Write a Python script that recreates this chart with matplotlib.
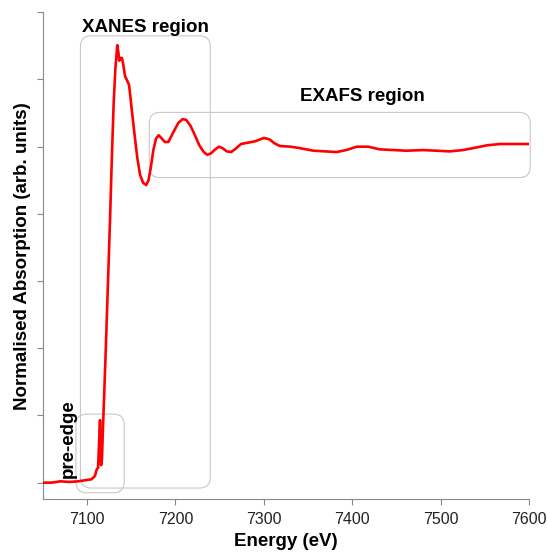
import matplotlib
matplotlib.use("Agg")
import matplotlib.pyplot as plt
from matplotlib.patches import FancyBboxPatch

plt.rcParams['font.family'] = ['Liberation Sans', 'DejaVu Sans']

# XAS spectrum
energy = [7050, 7060, 7070, 7080, 7090, 7100, 7105, 7109, 7111, 7112.5,
          7113.5, 7114.7, 7115.3, 7115.9, 7116.9, 7118, 7119.2, 7121, 7123,
          7126, 7128, 7130, 7132, 7134.2, 7135.5, 7136.5, 7138, 7139.5, 7141,
          7143, 7145.5, 7147.5, 7149, 7151, 7154, 7157, 7160, 7163.5, 7167,
          7169.5, 7172, 7175, 7178, 7181, 7184, 7188, 7192, 7197, 7203, 7208,
          7212, 7217, 7222, 7227, 7232, 7236, 7240, 7245, 7249, 7253, 7258,
          7263, 7268, 7274, 7282, 7290, 7300, 7306, 7312, 7318, 7330, 7340,
          7356, 7370, 7382, 7393, 7405, 7418, 7431, 7447, 7461, 7480, 7495,
          7510, 7525, 7537, 7552, 7567, 7585, 7600]
absorption = [0.00, 0.00, 0.02, 0.01, 0.02, 0.04, 0.05, 0.10, 0.20, 0.22,
              0.55, 0.93, 0.55, 0.26, 0.35, 0.80, 1.23, 1.90, 2.70,
              3.90, 4.80, 5.60, 6.15, 6.51, 6.40, 6.28, 6.32, 6.32, 6.22,
              6.05, 5.98, 5.92, 5.75, 5.50, 5.15, 4.82, 4.58, 4.46, 4.43,
              4.50, 4.68, 4.95, 5.12, 5.17, 5.13, 5.07, 5.07, 5.20, 5.35, 5.41,
              5.40, 5.31, 5.17, 5.02, 4.92, 4.88, 4.90, 4.96, 5.00, 4.98, 4.93,
              4.92, 4.97, 5.04, 5.06, 5.08, 5.13, 5.11, 5.05, 5.01, 5.00, 4.98,
              4.94, 4.93, 4.92, 4.95, 5.00, 5.00, 4.96, 4.95, 4.94, 4.95, 4.94,
              4.93, 4.95, 4.98, 5.02, 5.04, 5.04, 5.04]

xticks = [7100, 7200, 7300, 7400, 7500, 7600]
yticks = [0, 1, 2, 3, 4, 5, 6, 7]

# region boxes: (label, x0, x1, y0, y1)
regions = [
    ("pre-edge", 7087.5, 7142, -0.15, 1.02),
    ("XANES region", 7092.6, 7239.3, -0.08, 6.65),
    ("EXAFS region", 7170.4, 7601, 4.54, 5.51),
]

fig = plt.figure(figsize=(5.47, 5.54), dpi=100)
ax = fig.add_axes([0.0782, 0.0993, 0.8895, 0.8785])

ax.plot(energy, absorption, color='#ff0000', lw=1.9, zorder=3)

ax.set_xlim(7050, 7600)
ax.set_ylim(-0.243, 7.0)
ax.set_xticks(xticks)
ax.set_yticks(yticks)
ax.set_yticklabels([])
ax.tick_params(axis='both', direction='out', length=4, width=0.8,
               color='#888888', labelsize=11.5, labelcolor='#222222')
ax.tick_params(axis='x', pad=5.5)

for s in ['top', 'right']:
    ax.spines[s].set_visible(False)
for s in ['left', 'bottom']:
    ax.spines[s].set_color('#888888')
    ax.spines[s].set_linewidth(0.8)

# aspect between y data units and x data units in pixels
px_x = 0.8846
px_y = 67.2
for name, x0, x1, y0, y1 in regions:
    box = FancyBboxPatch((x0, y0), x1 - x0, y1 - y0,
                         boxstyle="round,pad=0,rounding_size=12",
                         mutation_aspect=px_x / px_y,
                         fc='none', ec='#c8c8c8', lw=0.8,
                         transform=ax.transData, clip_on=False, zorder=2)
    ax.add_patch(box)

ax.text(7165.5, 6.78, "XANES region", fontsize=13.5, fontweight='bold',
        ha='center', va='center')
ax.text(7411, 5.74, "EXAFS region", fontsize=13.5, fontweight='bold',
        ha='center', va='center')
ax.text(7078.5, 0.66, "pre-edge", fontsize=13.5, fontweight='bold',
        ha='center', va='center', rotation=90)

ax.set_xlabel("Energy (eV)", fontsize=13.5, fontweight='bold', labelpad=4)
ax.set_ylabel("Normalised Absorption (arb. units)", fontsize=13.5,
              fontweight='bold', labelpad=1)

fig.savefig("out.png", dpi=100)
